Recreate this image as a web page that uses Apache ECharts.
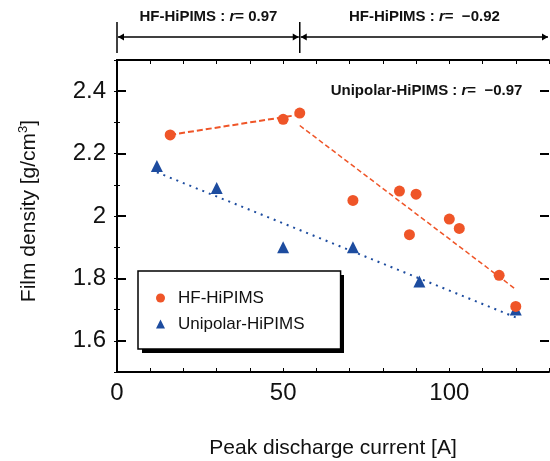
<!DOCTYPE html>
<html>
<head>
<meta charset="utf-8">
<script src="https://cdn.jsdelivr.net/npm/echarts@6/dist/echarts.min.js"></script>
<style>
html, body { margin: 0; padding: 0; background: #fff; }
#chart { width: 550px; height: 461px; }
</style>
</head>
<body>
<div id="chart"></div>
<script>
// HF-HiPIMS points: peak discharge current [A] / film density [g/cm3]
const hfCurrent = [16, 50, 55, 71, 85, 88, 90, 100, 103, 115, 120];
const hfDensity = [2.26, 2.31, 2.33, 2.05, 2.08, 1.94, 2.07, 1.99, 1.96, 1.81, 1.71];
// Unipolar-HiPIMS points
const uniCurrent = [12, 30, 50, 71, 91, 120];
const uniDensity = [2.16, 2.09, 1.90, 1.90, 1.79, 1.70];

// fitted lines, end points
const hfFitLow = [[16, 2.26], [55, 2.325]];
const hfFitHigh = [[55, 2.29], [120, 1.765]];
const uniFit = [[12, 2.14], [120, 1.675]];

const xLabelTicks = [0, 50, 100];
const yLabelTicks = [1.6, 1.8, 2.0, 2.2, 2.4];

// correlation ranges shown above the plot
const rangeEdges = [0, 55, 130];
const rangeR = ['0.97', '\u22120.92'];
const uniR = '\u22120.97';

const FONT = '"Liberation Sans", Arial, Helvetica, sans-serif';
const ORANGE = '#ef5528';
const BLUE = '#1d4c9f';

// legend box (the drop shadow is drawn separately)
const legendBox = { left: 138, top: 271, width: 202, height: 78 };

const zip = (xs, ys) => xs.map((x, i) => [x, ys[i]]);

const myChart = echarts.init(document.getElementById('chart'), null, { renderer: 'canvas' });

const axisLine = { show: true, lineStyle: { color: '#000', width: 2 } };

function xAxisCfg(position, showLabel) {
	return {
		type: 'value',
		position: position,
		min: 0,
		max: 130,
		interval: 10,
		axisLine: axisLine,
		axisTick: { show: true, inside: true, length: 4, lineStyle: { color: '#000', width: 1 } },
		axisLabel: {
			show: showLabel,
			margin: 9,
			fontSize: 24,
			color: '#111',
			fontFamily: FONT,
			formatter: (v) => (xLabelTicks.indexOf(v) !== -1 ? String(v) : '')
		},
		splitLine: { show: false }
	};
}

function yAxisCfg(position, showLabel) {
	return {
		type: 'value',
		position: position,
		min: 1.5,
		max: 2.5,
		interval: 0.1,
		axisLine: axisLine,
		axisTick: { show: true, inside: true, length: 3, lineStyle: { color: '#000', width: 1 } },
		axisLabel: {
			show: showLabel,
			margin: 11,
			fontSize: 24,
			color: '#111',
			fontFamily: FONT,
			customValues: yLabelTicks
		},
		splitLine: { show: false }
	};
}

// long ticks at the labelled values
function yMajorCfg(position) {
	return {
		type: 'value',
		position: position,
		min: 1.5,
		max: 2.5,
		axisLine: { show: false },
		axisTick: { show: true, inside: true, length: 9, customValues: yLabelTicks, lineStyle: { color: '#000', width: 2 } },
		axisLabel: { show: false },
		splitLine: { show: false }
	};
}

const yLeft = yAxisCfg('left', true);
yLeft.name = '{a|Film density [g/cm}{s|3}{a|]}';
yLeft.nameLocation = 'middle';
yLeft.nameGap = 76;
yLeft.nameTextStyle = {
	padding: [0, 0, 0, 10],
	rich: {
		a: { fontSize: 21, color: '#111', fontFamily: FONT, lineHeight: 24 },
		s: { fontSize: 13, color: '#111', fontFamily: FONT, lineHeight: 24, verticalAlign: 'top' }
	}
};

const xBottom = xAxisCfg('bottom', true);
xBottom.name = 'Peak discharge current [A]';
xBottom.nameLocation = 'middle';
xBottom.nameGap = 66;
xBottom.nameTextStyle = { fontSize: 21, color: '#111', fontFamily: FONT };

const option = {
	backgroundColor: '#fff',
	animation: false,
	grid: { left: 117, right: 1, top: 60, bottom: 89, outerBoundsMode: 'none' },
	xAxis: [xBottom, xAxisCfg('top', false)],
	yAxis: [yLeft, yAxisCfg('right', false), yMajorCfg('left'), yMajorCfg('right')],
	legend: {
		data: [
			{ name: 'HF-HiPIMS', icon: 'circle' },
			{ name: 'Unipolar-HiPIMS', icon: 'triangle' }
		],
		orient: 'vertical',
		left: legendBox.left,
		top: legendBox.top,
		padding: [17, 36, 15, 18],
		itemWidth: 9,
		itemHeight: 9,
		itemGap: 6,
		z: 6,
		backgroundColor: '#fff',
		borderColor: '#000',
		borderWidth: 1.5,
		textStyle: { fontSize: 17, color: '#111', lineHeight: 20, fontFamily: FONT, padding: [0, 0, 0, 8] }
	},
	series: [
		{
			name: 'hf-fit-low',
			type: 'line',
			data: hfFitLow,
			symbol: 'none',
			z: 2,
			lineStyle: { color: ORANGE, width: 2, type: [6, 3] }
		},
		{
			name: 'hf-fit-high',
			type: 'line',
			data: hfFitHigh,
			symbol: 'none',
			z: 2,
			lineStyle: { color: ORANGE, width: 1.5, type: [5, 3] }
		},
		{
			name: 'uni-fit',
			type: 'line',
			data: uniFit,
			symbol: 'none',
			z: 2,
			lineStyle: { color: BLUE, width: 2, type: [2, 5] }
		},
		{
			name: 'Unipolar-HiPIMS',
			type: 'scatter',
			data: zip(uniCurrent, uniDensity),
			symbol: 'triangle',
			symbolSize: 12,
			z: 3,
			itemStyle: { color: BLUE, opacity: 1 }
		},
		{
			name: 'HF-HiPIMS',
			type: 'scatter',
			data: zip(hfCurrent, hfDensity),
			symbol: 'circle',
			symbolSize: 11,
			z: 4,
			itemStyle: { color: ORANGE, opacity: 1 }
		}
	]
};

myChart.setOption(option);

// annotations above and inside the plot, placed in data coordinates
function arrowHead(x, y, dir) {
	return {
		type: 'polygon',
		shape: { points: [[x, y], [x - dir * 6, y - 3.5], [x - dir * 6, y + 3.5]] },
		style: { fill: '#000' }
	};
}

function drawAnnotations() {
	const px = (v) => myChart.convertToPixel({ xAxisIndex: 0 }, v);
	const arrowY = 37;
	const elems = [];

	const boldRich = {
		b: { fontSize: 15, fontWeight: 'bold', fontFamily: FONT, fill: '#111' },
		i: { fontSize: 15, fontWeight: 'bold', fontStyle: 'italic', fontFamily: FONT, fill: '#111' }
	};

	for (let i = 0; i < rangeR.length; i++) {
		const x0 = px(rangeEdges[i]);
		const x1 = Math.min(px(rangeEdges[i + 1]), 550);
		elems.push({
			type: 'line',
			shape: { x1: x0 + 1, y1: arrowY, x2: x1 - 1, y2: arrowY },
			style: { stroke: '#000', lineWidth: 1.5 }
		});
		elems.push(arrowHead(x0 + 1, arrowY, -1));
		elems.push(arrowHead(x1 - 1, arrowY, 1));
		elems.push({
			type: 'text',
			x: (x0 + x1) / 2,
			y: 17,
			style: {
				text: '{b|HF-HiPIMS : }{i|r}{b|= ' + (i === 0 ? '' : ' ') + rangeR[i] + '}',
				align: 'center',
				verticalAlign: 'middle',
				rich: boldRich
			}
		});
	}

	// vertical stops at the range edges
	[rangeEdges[0], rangeEdges[1]].forEach((v) => {
		const x = px(v);
		elems.push({
			type: 'line',
			shape: { x1: x, y1: 22, x2: x, y2: 53 },
			style: { stroke: '#000', lineWidth: 1.5 }
		});
	});

	const uniPos = myChart.convertToPixel({ xAxisIndex: 0, yAxisIndex: 0 }, [122, 2.4]);
	elems.push({
		type: 'text',
		x: uniPos[0],
		y: uniPos[1],
		style: {
			text: '{b|Unipolar-HiPIMS : }{i|r}{b|=  ' + uniR + '}',
			align: 'right',
			verticalAlign: 'middle',
			rich: boldRich
		}
	});

	// legend drop shadow
	elems.push({
		type: 'rect',
		z: 5,
		shape: {
			x: legendBox.left + 4,
			y: legendBox.top + 4,
			width: legendBox.width,
			height: legendBox.height
		},
		style: { fill: '#000' }
	});

	myChart.setOption({ graphic: elems });
}

drawAnnotations();
</script>
</body>
</html>
